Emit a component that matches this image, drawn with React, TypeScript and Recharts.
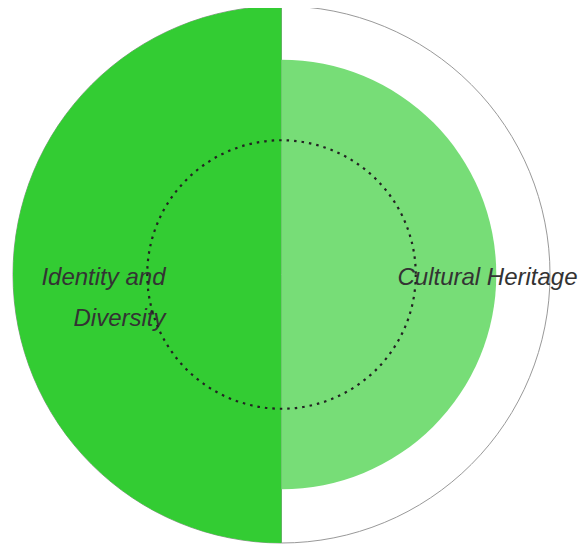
import {
  RadialBarChart,
  RadialBar,
  PolarAngleAxis,
  PolarRadiusAxis,
  PolarGrid,
  Cell,
} from "recharts";

const categories = ["Identity and Diversity", "Cultural Heritage"];
const values = [100, 80];
const barColors = ["#33cc33", "#77dd77"];
const gridTicks = [50];
const maxValue = 100;

const data = categories.map((name, i) => ({ name, value: values[i] }));

const W = 579;
const H = 536;
const CX = 273.5;
const CY = 266.5;
const R = 268.5;
const FONT_SIZE = 24;
const FONT_FAMILY = "'Liberation Sans', Arial, Helvetica, sans-serif";

function wrapText(text: string, maxWidth: number) {
  const ctx = document.createElement("canvas").getContext("2d");
  if (!ctx) return [text];
  ctx.font = `italic ${FONT_SIZE}px ${FONT_FAMILY}`;
  const lines: string[] = [];
  let cur = "";
  for (const w of text.split(" ")) {
    const t = cur ? cur + " " + w : w;
    if (cur && ctx.measureText(t).width > maxWidth) {
      lines.push(cur);
      cur = w;
    } else {
      cur = t;
    }
  }
  if (cur) lines.push(cur);
  return lines;
}

// axis ticks sit at the start of each band; move label to the band middle
const AngleTick = (props: any) => {
  const { payload, x: tx, y: ty } = props;
  const tickAngle = Math.atan2(-(ty - CY), tx - CX);
  const a = tickAngle + Math.PI / categories.length;
  const r = R * 0.432;
  const x = CX + r * Math.cos(a);
  const y = CY - r * Math.sin(a);
  const left = Math.cos(a) < 0;
  const avail = left ? x + 8 : W + 8 - x;
  const lines = wrapText(String(payload.value), avail);
  return (
    <text
      x={x}
      y={y}
      textAnchor={left ? "end" : "start"}
      fontSize={FONT_SIZE}
      fontStyle="italic"
      fontFamily={FONT_FAMILY}
      fill="#333"
    >
      {lines.map((ln, i) => (
        <tspan key={i} x={x} dy={i === 0 ? "0.44em" : "1.72em"}>
          {ln}
        </tspan>
      ))}
    </text>
  );
};

export default function App() {
  return (
    <RadialBarChart
      width={W}
      height={H}
      data={data}
      layout="centric"
      cx={CX}
      cy={CY}
      innerRadius={0}
      outerRadius={R}
      startAngle={90}
      endAngle={-270}
      barCategoryGap={0}
      barGap={0}
      margin={{ top: 0, right: 0, bottom: 0, left: 0 }}
    >
      {/* outer frame + divider */}
      <PolarGrid
        gridType="circle"
        polarRadius={[R]}
        polarAngles={[90, 270]}
        stroke="#999"
        strokeWidth={1}
      />
      <PolarAngleAxis
        type="category"
        dataKey="name"
        axisLine={false}
        tickLine={false}
        tick={<AngleTick />}
      />
      <PolarRadiusAxis
        type="number"
        domain={[0, maxValue]}
        ticks={gridTicks}
        tick={false}
        axisLine={false}
      />
      <RadialBar dataKey="value" isAnimationActive={false}>
        {data.map((d, i) => (
          <Cell key={d.name} fill={barColors[i]} />
        ))}
      </RadialBar>
      <PolarGrid
        gridType="circle"
        radialLines={false}
        polarRadius={gridTicks.map((t) => (R * t) / maxValue)}
        stroke="#222"
        strokeWidth={2.2}
        strokeDasharray="2.5 5"
        zIndex={2000}
      />
    </RadialBarChart>
  );
}
